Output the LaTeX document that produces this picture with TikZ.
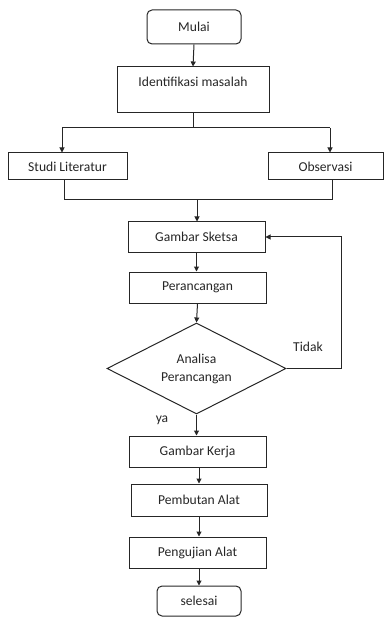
\documentclass[tikz,border=0pt]{standalone}
\usepackage{fontspec}
\setmainfont{Carlito}
\usetikzlibrary{shapes.geometric,arrows.meta}
\begin{document}
\begin{tikzpicture}[x=1pt,y=-1pt,
  every node/.style={font=\fontsize{13.6}{18}\selectfont, text=black!85},
  box/.style={draw=black!85, line width=1pt, rectangle, inner sep=0pt},
  term/.style={box, rounded corners=5pt},
  dec/.style={draw=black!85, line width=1pt, diamond, shape aspect=1.97, inner sep=0pt, align=center},
  conn/.style={draw=black!85, line width=1pt},
  arr/.style={conn, -{Triangle[length=5pt,width=5pt]}},
  lbl/.style={inner sep=0pt}]
\useasboundingbox (0,0) rectangle (388,617);
\node[term, minimum width=94pt, minimum height=34pt] (mulai) at (194,27) {Mulai};
\node[box, minimum width=152pt, minimum height=46pt, text height=9pt, text depth=16pt] (ident) at (193,90) {Identifikasi masalah};
\node[box, minimum width=119pt, minimum height=27pt] (studi) at (67.5,166.5) {Studi Literatur};
\node[box, minimum width=115pt, minimum height=27pt] (obs) at (325.5,166.5) {Observasi};
\node[box, minimum width=137pt, minimum height=30pt] (sketsa) at (196.5,237) {Gambar Sketsa};
\node[box, minimum width=137pt, minimum height=31pt] (peran) at (197.5,287.5) {Perancangan};
\node[dec, minimum width=179pt, minimum height=91pt] (ana) at (196.5,368.5) {Analisa\\Perancangan};
\node[box, minimum width=137pt, minimum height=31pt] (kerja) at (197.5,451.5) {Gambar Kerja};
\node[box, minimum width=136pt, minimum height=32pt] (buat) at (199,500) {Pembutan Alat};
\node[box, minimum width=137pt, minimum height=31pt] (uji) at (197.5,552.5) {Pengujian Alat};
\node[term, minimum width=84pt, minimum height=30pt] (selesai) at (199,601) {selesai};
\node[lbl] (tidak) at (308,347) {Tidak};
\node[lbl] (ya) at (162,420) {ya};
% connectors
\draw[arr] (mulai.south) -- (ident.north);
\coordinate (split) at (193,128);
\coordinate (sl) at (62,128);
\coordinate (sr) at (330,128);
\draw[conn] (ident.south) -- (split);
\draw[conn] (sl) -- (sr);
\draw[arr] (sl) -- (sl |- studi.north);
\draw[arr] (sr) -- (sr |- obs.north);
\coordinate (ml) at (64,200);
\coordinate (mr) at (332,200);
\coordinate (mm) at (197,200);
\draw[conn] (ml |- studi.south) -- (ml) -- (mr) -- (mr |- obs.south);
\draw[arr] (mm) -- (mm |- sketsa.north);
\draw[arr] (sketsa.south) -- (sketsa.south |- peran.north);
\draw[arr] (peran.south) -- (ana.north);
\draw[arr] (ana.east) -- ++(55,0) |- (sketsa.east);
\draw[arr] (ana.south) -- (ana.south |- kerja.north);
\draw[arr] (kerja.south -| buat.south) -- (buat.north);
\draw[arr] (buat.south) -- (buat.south |- uji.north);
\draw[arr] (uji.south -| selesai.north) -- (selesai.north);
\end{tikzpicture}
\end{document}
